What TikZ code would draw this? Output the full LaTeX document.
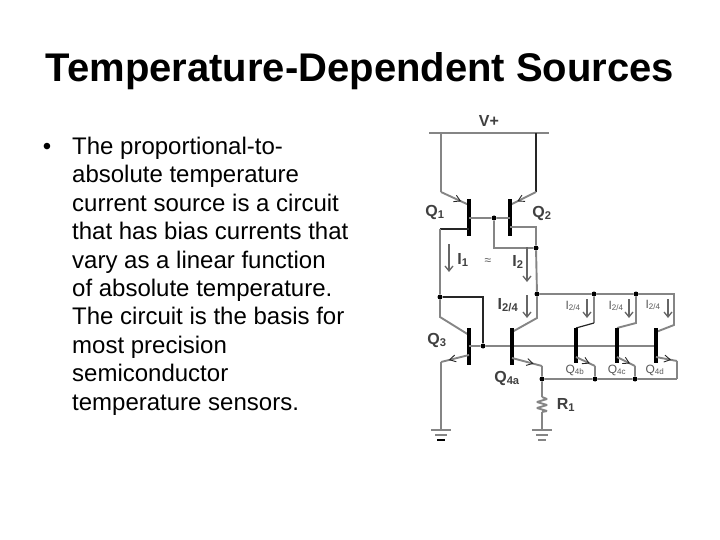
\documentclass[tikz,border=0pt]{standalone}
\usepackage{fontspec}
\setmainfont{Liberation Sans}
\usetikzlibrary{decorations.markings,arrows.meta}
\definecolor{wiregray}{HTML}{858585}
\tikzset{
	wire/.style={draw=wiregray, line width=1.9pt},
	thinwire/.style={draw=black!85, line width=1.2pt},
	bar/.style={draw=black, line width=3.4pt},
	junction/.style={circle, fill=black, inner sep=0pt, minimum size=5pt},
	emitter/.style={postaction={decorate}, decoration={markings, mark=at position 0.72 with {\arrow[black!85, line width=0.9pt]{Straight Barb[length=6pt,width=7pt]}}}},
	current/.style={draw=black!60, line width=1.3pt, -{Straight Barb[length=5pt,width=8pt]}},
	biglabel/.style={font=\fontsize{16}{16}\selectfont\bfseries, text=black!75, inner sep=0pt},
	smalllabel/.style={font=\fontsize{12}{12}\selectfont, text=black!65, inner sep=0pt}
}
\begin{document}
\begin{tikzpicture}[x=1pt,y=-1pt]
		\useasboundingbox (0,0) rectangle (720,540);

		\node[font=\fontsize{40}{40}\selectfont\bfseries, anchor=base] (title) at (360,82) {Temperature-Dependent Sources};
		\node[font=\fontsize{24}{24}\selectfont, anchor=base] (bullet) at (47,155) {•};
		\node[font=\fontsize{24}{28.4}\selectfont, align=left, anchor=north west, inner sep=0pt] (body) at (72,137) {The proportional-to-\\absolute temperature\\current source is a circuit\\that has bias currents that\\vary as a linear function\\of absolute temperature.\\The circuit is the basis for\\most precision\\semiconductor\\temperature sensors.};

		% rail and top pair
		\coordinate (railL) at (429,133);
		\coordinate (railR) at (549,133);
		\coordinate (q1rail) at (441,133);
		\coordinate (q2rail) at (536,133);
		\coordinate (q1e) at (441,192);
		\coordinate (q2e) at (536,192);
		\coordinate (q1eb) at (469,205);
		\coordinate (q2eb) at (510,205);
		\coordinate (q1t) at (469,199);
		\coordinate (q1b) at (469,236);
		\coordinate (q2t) at (510,199);
		\coordinate (q2b) at (510,236);
		\coordinate (q1g) at (469,218);
		\coordinate (q2g) at (510,218);
		\coordinate (q1cb) at (469,229);
		\coordinate (q1c) at (440,229);
		\coordinate (q2cb) at (510,227);
		\coordinate (q2c) at (536,227);
		\coordinate (linkb) at (494,248);

		\draw[wire] (railL) -- (railR);
		\draw[wire] (q1rail) -- (q1e);
		\draw[thinwire] (q2rail) -- (q2e);
		\draw[wire,emitter] (q1e) -- (q1eb);
		\draw[wire,emitter] (q2e) -- (q2eb);
		\draw[bar] (q1t) -- (q1b);
		\draw[bar] (q2t) -- (q2b);
		\node[junction] (n1) at (494,218) {};
		\node[junction] (n2) at (536,248) {};
		\draw[wire] (q1g) -- (n1) -- (q2g);
		\draw[wire] (n1) -- (linkb) -- (n2);
		\draw[wire] (q2cb) -- (q2c) -- (n2);
		\draw[thinwire] (q1cb) -- (q1c);

		% lower mirror
		\node[junction] (n3) at (440,297) {};
		\node[junction] (n4) at (483,346) {};
		\node[junction] (n5) at (537,294) {};
		\node[junction] (n6) at (594,294) {};
		\node[junction] (n7) at (636,294) {};
		\node[junction] (n8) at (542,379) {};
		\node[junction] (n9) at (595,379) {};
		\node[junction] (n10) at (635,379) {};
		\coordinate (top) at (483,297);
		\coordinate (q3c) at (440,317);
		\coordinate (q3cb) at (469,335);
		\coordinate (q3t) at (469,328);
		\coordinate (q3b) at (469,365);
		\coordinate (q3g) at (469,346);
		\coordinate (q3eb) at (469,355);
		\coordinate (q3e) at (441,362);
		\coordinate (gnd1) at (441,430);
		\coordinate (q4ac) at (537,318);
		\coordinate (q4acb) at (512,332);
		\coordinate (q4at) at (512,328);
		\coordinate (q4ab) at (512,365);
		\coordinate (q4aeb) at (512,358);
		\coordinate (q4ae) at (542,366);
		\coordinate (q4dg) at (656,346);
		\coordinate (r1t) at (542,397);
		\coordinate (r1b) at (542,412);
		\coordinate (gnd2) at (542,430);

		\draw[wire] (q1c) -- (n3);
		\draw[wire] (n3) -- (q3c) -- (q3cb);
		\draw[thinwire] (n3) -- (top) -- (n4);
		\draw[bar] (q3t) -- (q3b);
		\draw[wire,emitter] (q3eb) -- (q3e);
		\draw[wire] (q3e) -- (gnd1);
		\draw[wire] (q3g) -- (n4) -- (q4dg);
		\draw[wire] (n2) -- (n5) -- (q4ac) -- (q4acb);
		\draw[bar] (q4at) -- (q4ab);
		\draw[wire,emitter] (q4aeb) -- (q4ae);
		\draw[wire] (q4ae) -- (n8) -- (r1t);
		\draw[wire, line join=bevel] (r1t) -- ++(5,2) -- ++(-10,3) -- ++(10,3) -- ++(-10,3) -- ++(10,3) -- (r1b);
		\draw[wire] (r1b) -- (gnd2);

		% right branches
		\coordinate (rtop) at (674,294);
		\coordinate (rbot) at (677,379);
		\coordinate (q4bc) at (594,323);
		\coordinate (q4cc) at (636,323);
		\coordinate (q4dc) at (674,325);
		\coordinate (q4bcb) at (576,328);
		\coordinate (q4ccb) at (617,328);
		\coordinate (q4dcb) at (656,332);
		\coordinate (q4bt) at (576,328);
		\coordinate (q4bb) at (576,363);
		\coordinate (q4ct) at (617,328);
		\coordinate (q4cb) at (617,363);
		\coordinate (q4dt) at (656,328);
		\coordinate (q4db) at (656,363);
		\coordinate (q4beb) at (576,357);
		\coordinate (q4ceb) at (617,357);
		\coordinate (q4deb) at (656,357);
		\coordinate (q4be) at (595,366);
		\coordinate (q4ce) at (635,366);
		\coordinate (q4de) at (677,361);

		\draw[wire] (n5) -- (n6) -- (n7) -- (rtop) -- (q4dc) -- (q4dcb);
		\draw[wire] (n6) -- (q4bc);
		\draw[thinwire] (q4bc) -- (q4bcb);
		\draw[wire] (n7) -- (q4cc) -- (q4ccb);
		\draw[bar] (q4bt) -- (q4bb);
		\draw[bar] (q4ct) -- (q4cb);
		\draw[bar] (q4dt) -- (q4db);
		\draw[wire,emitter] (q4beb) -- (q4be);
		\draw[wire,emitter] (q4ceb) -- (q4ce);
		\draw[wire,emitter] (q4deb) -- (q4de);
		\draw[wire] (q4be) -- (n9);
		\draw[wire] (q4ce) -- (n10);
		\draw[wire] (q4de) -- (rbot);
		\draw[wire] (n8) -- (n9) -- (n10) -- (rbot);

		% grounds
		\draw[wire] (431,430) -- (451,430);
		\draw[wire] (435,435) -- (447,435);
		\draw[draw=black, line width=1.9pt] (437,440) -- (445,440);
		\draw[wire] (532,430) -- (552,430);
		\draw[wire] (536,435) -- (548,435);
		\draw[wire] (538,440) -- (546,440);

		% current arrows
		\coordinate (i1a) at (449,244);
		\coordinate (i1b) at (449,272);
		\coordinate (i2a) at (527,247);
		\coordinate (i2b) at (527,282);
		\coordinate (i3a) at (527,295);
		\coordinate (i3b) at (527,318);
		\coordinate (i4a) at (587,299);
		\coordinate (i4b) at (587,318);
		\coordinate (i5a) at (629,299);
		\coordinate (i5b) at (629,318);
		\coordinate (i6a) at (668,299);
		\coordinate (i6b) at (668,318);
		\draw[current] (i1a) -- (i1b);
		\draw[current] (i2a) -- (i2b);
		\draw[current] (i3a) -- (i3b);
		\draw[current] (i4a) -- (i4b);
		\draw[current] (i5a) -- (i5b);
		\draw[current] (i6a) -- (i6b);

		% labels
		\node[biglabel] (vplus) at (489,121) {V+};
		\node[biglabel] (lq1) at (435,212) {Q\textsubscript{1}};
		\node[biglabel] (lq2) at (542,213) {Q\textsubscript{2}};
		\node[biglabel] (lq3) at (437,340) {Q\textsubscript{3}};
		\node[biglabel] (lq4a) at (507,378) {Q\textsubscript{4a}};
		\node[biglabel] (lr1) at (566,405) {R\textsubscript{1}};
		\node[biglabel] (li1) at (463,260) {I\textsubscript{1}};
		\node[biglabel] (li2) at (518,262) {I\textsubscript{2}};
		\node[biglabel] (li3) at (508,305) {I\textsubscript{2/4}};
		\node[smalllabel] (approx) at (488,262) {≈};
		\node[smalllabel] (li4) at (573,306) {I\textsubscript{2/4}};
		\node[smalllabel] (li5) at (616,306) {I\textsubscript{2/4}};
		\node[smalllabel] (li6) at (653,305) {I\textsubscript{2/4}};
		\node[smalllabel] (lq4b) at (575,370) {Q\textsubscript{4b}};
		\node[smalllabel] (lq4c) at (617,370) {Q\textsubscript{4c}};
		\node[smalllabel] (lq4d) at (655,370) {Q\textsubscript{4d}};
	\end{tikzpicture}
\end{document}
